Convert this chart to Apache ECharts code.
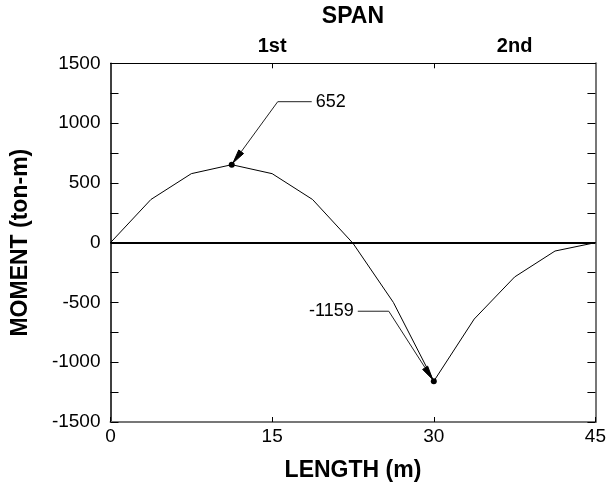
<!DOCTYPE html>
<html>
<head>
<meta charset="utf-8">
<script src="https://cdn.jsdelivr.net/npm/echarts@6/dist/echarts.min.js"></script>
<style>
html,body{margin:0;padding:0;background:#fff;}
#chart{width:609px;height:487px;}
</style>
</head>
<body>
<div id="chart"></div>
<script>
// ---- data ----
const lengthValues = [0, 3.75, 7.5, 11.25, 15, 18.75, 22.5, 26.25, 30, 33.75, 37.5, 41.25, 45];
const momentValues = [0, 361, 577, 652, 577, 361, -5, -500, -1159, -639, -287, -70, 0];
const annotatedIndex = [3, 8];
const annotationTexts = ['652', '-1159'];
const spanCenters = [15, 37.5];
const spanLabels = ['1st', '2nd'];
const spanBoundaries = [15, 30];

const FONT = "'Liberation Sans', Arial, Helvetica, sans-serif";
const chart = echarts.init(document.getElementById('chart'), null, {renderer: 'canvas'});

const seriesData = lengthValues.map((x, i) => [x, momentValues[i]]);
const peakData = annotatedIndex.map(i => [lengthValues[i], momentValues[i]]);

const yAxisCommon = {
  type: 'value', min: -1500, max: 1500, interval: 500,
  splitLine: {show: false},
  axisTick: {show: true, inside: true, length: 8, lineStyle: {color: '#000', width: 1}},
  minorTick: {show: true, splitNumber: 2, length: 8, lineStyle: {color: '#000', width: 1}},
  minorSplitLine: {show: false}
};

chart.setOption({
  animation: false,
  backgroundColor: '#fff',
  grid: {left: 110.5, right: 7, top: 63.3, bottom: 63.7, containLabel: false},
  xAxis: [
    {
      type: 'value', position: 'bottom', min: 0, max: 45, interval: 15,
      name: 'LENGTH (m)', nameLocation: 'middle', nameGap: 37,
      nameTextStyle: {fontFamily: FONT, fontSize: 23, fontWeight: 'bold', color: '#000'},
      axisLine: {show: true, onZero: false, lineStyle: {color: '#777', width: 2}},
      axisTick: {show: true, inside: true, length: 5, lineStyle: {color: '#000'}},
      axisLabel: {fontFamily: FONT, fontSize: 19, color: '#000', margin: 5, formatter: v => String(v)},
      splitLine: {show: false}
    },
    {
      type: 'value', position: 'top', min: 0, max: 45,
      name: 'SPAN', nameLocation: 'middle', nameGap: 35,
      nameTextStyle: {fontFamily: FONT, fontSize: 23, fontWeight: 'bold', color: '#000'},
      axisLine: {show: true, onZero: false, lineStyle: {color: '#000', width: 1}},
      axisTick: {show: true, inside: true, length: 5, customValues: spanBoundaries, lineStyle: {color: '#000'}},
      axisLabel: {
        show: true, customValues: spanCenters, margin: 7,
        fontFamily: FONT, fontSize: 20, fontWeight: 'bold', color: '#000',
        formatter: v => spanLabels[spanCenters.indexOf(v)] || ''
      },
      splitLine: {show: false}
    }
  ],
  yAxis: [
    Object.assign({}, yAxisCommon, {
      position: 'left',
      name: 'MOMENT (ton-m)', nameLocation: 'middle', nameGap: 78, nameRotate: 90,
      nameTextStyle: {fontFamily: FONT, fontSize: 23, fontWeight: 'bold', color: '#000'},
      axisLine: {show: true, onZero: false, lineStyle: {color: '#000', width: 1.5}},
      axisLabel: {fontFamily: FONT, fontSize: 19, color: '#000', margin: 10, formatter: v => String(v)}
    }),
    Object.assign({}, yAxisCommon, {
      position: 'right',
      axisLine: {show: true, onZero: false, lineStyle: {color: '#777', width: 2}},
      axisLabel: {show: false}
    })
  ],
  series: [
    {
      type: 'line', xAxisIndex: 0, yAxisIndex: 0,
      data: seriesData, showSymbol: false, symbol: 'none',
      lineStyle: {color: '#000', width: 1},
      markLine: {
        silent: true, symbol: 'none', label: {show: false},
        lineStyle: {color: '#000', width: 2, type: 'solid'},
        data: [{yAxis: 0}]
      }
    },
    {
      type: 'scatter', xAxisIndex: 0, yAxisIndex: 0,
      data: peakData, symbol: 'circle', symbolSize: 6,
      itemStyle: {color: '#000', opacity: 1}
    }
  ]
});

// ---- annotations (leader lines with arrowheads) ----
const offsets = [
  {elbow: [46, -63], end: [80, -63], text: [84, -63], align: 'left'},
  {elbow: [-45, -70], end: [-76, -70], text: [-80, -70], align: 'right'}
];
const graphics = [];
annotatedIndex.forEach((idx, k) => {
  const p = chart.convertToPixel({seriesIndex: 0}, [lengthValues[idx], momentValues[idx]]);
  const o = offsets[k];
  const elbow = [p[0] + o.elbow[0], p[1] + o.elbow[1]];
  const end = [p[0] + o.end[0], p[1] + o.end[1]];
  const dx = p[0] - elbow[0], dy = p[1] - elbow[1];
  const len = Math.sqrt(dx * dx + dy * dy);
  const ux = dx / len, uy = dy / len;
  const tip = [p[0] - ux * 2, p[1] - uy * 2];
  const base = [tip[0] - ux * 14, tip[1] - uy * 14];
  const hw = 3;
  graphics.push({
    type: 'polyline', silent: true, z: 10,
    shape: {points: [end, elbow, base]},
    style: {stroke: '#222', lineWidth: 1, fill: null}
  });
  graphics.push({
    type: 'polygon', silent: true, z: 10,
    shape: {points: [tip, [base[0] - uy * hw, base[1] + ux * hw], [base[0] + uy * hw, base[1] - ux * hw]]},
    style: {fill: '#000', stroke: '#000', lineWidth: 1}
  });
  graphics.push({
    type: 'text', silent: true, z: 10,
    x: p[0] + o.text[0], y: p[1] + o.text[1],
    style: {text: annotationTexts[k], fontFamily: FONT, fontSize: 18, fill: '#000',
            align: o.align, verticalAlign: 'middle'}
  });
});
chart.setOption({graphic: graphics});
</script>
</body>
</html>
